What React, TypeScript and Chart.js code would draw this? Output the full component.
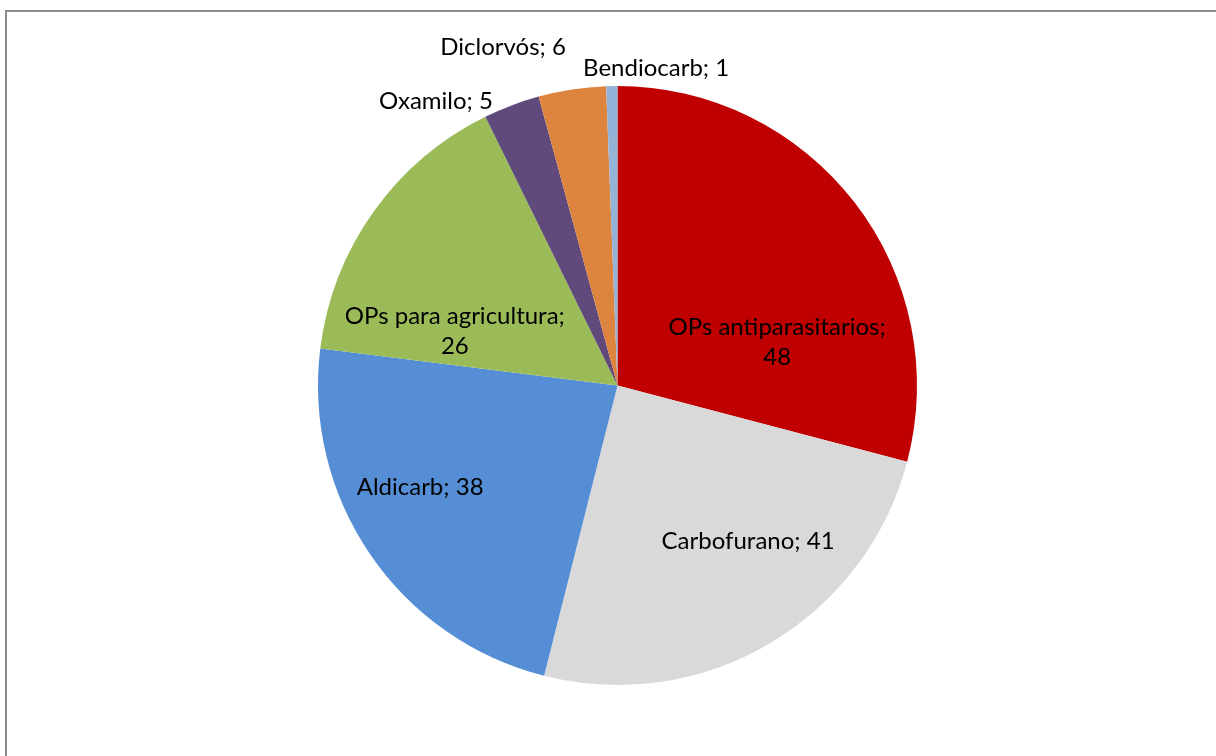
import React, { useEffect, useRef } from "react";
import { Chart, registerables } from "chart.js";

Chart.register(...registerables);

const categories = [
  "OPs antiparasitarios",
  "Carbofurano",
  "Aldicarb",
  "OPs para agricultura",
  "Oxamilo",
  "Diclorvós",
  "Bendiocarb",
];
const values = [48, 41, 38, 26, 5, 6, 1];
const colors = ["#C00000", "#D9D9D9", "#558ED5", "#9BBB59", "#604A7B", "#DD843F", "#95B3D7"];
// label text lines per slice
const labelLines = [
  ["OPs antiparasitarios;", "48"],
  ["Carbofurano; 41"],
  ["Aldicarb; 38"],
  ["OPs para agricultura;", "26"],
  ["Oxamilo; 5"],
  ["Diclorvós; 6"],
  ["Bendiocarb; 1"],
];
// label anchor offsets relative to pie center, in units of radius
const labelOffsets = [
  [0.533, -0.145],
  [0.436, 0.519],
  [-0.659, 0.339],
  [-0.543, -0.18],
  [-0.606, -0.95],
  [-0.382, -1.13],
  [0.129, -1.06],
];

const labelPlugin = {
  id: "sliceLabels",
  afterDatasetsDraw(chart: any) {
    const meta = chart.getDatasetMeta(0);
    const arc = meta.data[0];
    if (!arc) return;
    const { x, y, outerRadius } = arc.getProps(["x", "y", "outerRadius"], true);
    const ctx = chart.ctx;
    ctx.save();
    ctx.font = "24px Lato";
    ctx.fillStyle = "#000";
    ctx.textAlign = "center";
    ctx.textBaseline = "middle";
    const lh = 30;
    labelLines.forEach((lines, i) => {
      const cx = x + labelOffsets[i][0] * outerRadius;
      const cy = y + labelOffsets[i][1] * outerRadius;
      const top = cy - ((lines.length - 1) * lh) / 2;
      lines.forEach((t, j) => ctx.fillText(t, cx, top + j * lh));
    });
    ctx.restore();
  },
};

export default function App() {
  const ref = useRef<HTMLCanvasElement>(null);
  useEffect(() => {
    document.body.style.margin = "0";
    document.body.style.overflow = "hidden";
    const chart = new Chart(ref.current!, {
      type: "pie",
      data: {
        labels: categories,
        datasets: [
          {
            data: values,
            backgroundColor: colors,
            borderWidth: 0,
          },
        ],
      },
      options: {
        animation: false,
        responsive: false,
        maintainAspectRatio: false,
        layout: { padding: { left: 318, right: 299, top: 86, bottom: 71 } },
        plugins: {
          legend: { display: false },
          tooltip: { enabled: false },
        },
      },
      plugins: [labelPlugin],
    });
    return () => chart.destroy();
  }, []);
  return (
    <div style={{ position: "fixed", left: 0, top: 0, width: 1216, height: 756, overflow: "hidden", background: "#fff" }}>
      <div
        style={{
          position: "absolute",
          left: 5,
          top: 10,
          width: 1400,
          height: 1000,
          border: "2px solid #8c8c8c",
          boxSizing: "border-box",
        }}
      />
      <canvas ref={ref} width={1216} height={756} style={{ position: "absolute", left: 0, top: 0 }} />
    </div>
  );
}
